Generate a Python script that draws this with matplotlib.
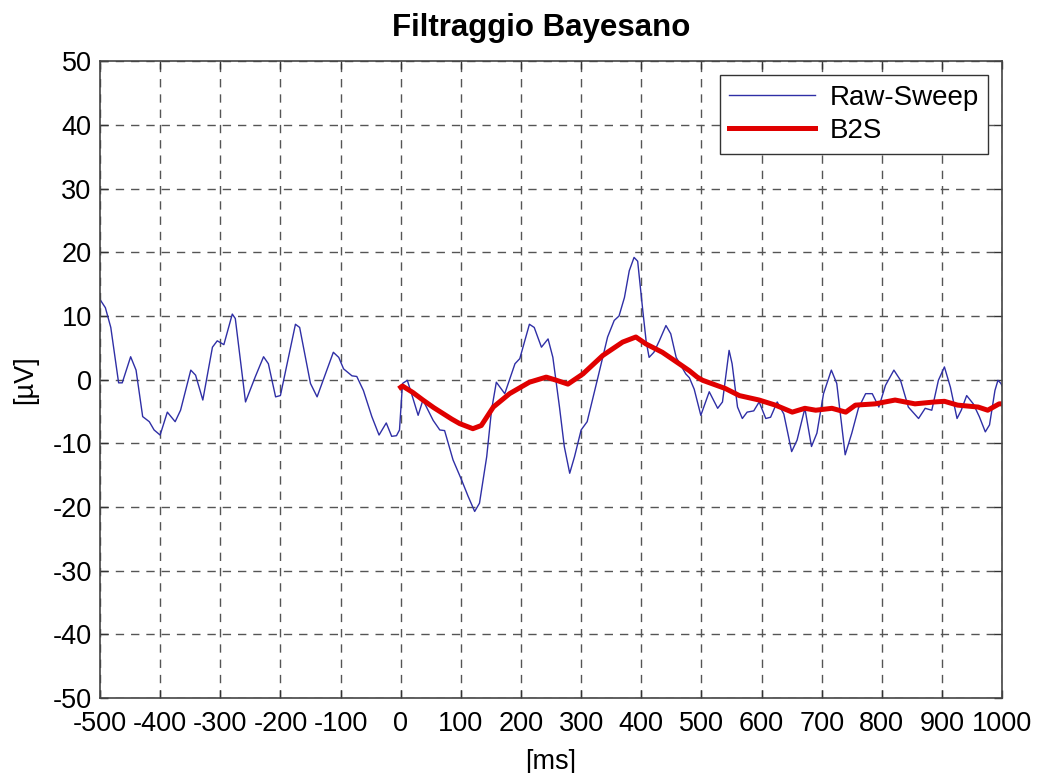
import numpy as np
import matplotlib
matplotlib.use("Agg")
import matplotlib.pyplot as plt

# Single sweep (raw) and Bayesian-filtered estimate, time in ms, amplitude in uV
raw_t = [-500, -491, -482, -469, -463, -449, -440, -429, -418, -410, -400, -388, -375, -366,
         -349, -341, -329, -313, -305, -294, -280, -275, -258, -242, -228, -220, -208, -200,
         -175, -168, -150, -139, -112, -103, -95, -81, -73, -62, -48, -36, -24, -15, -7, -2,
         3, 11, 18, 29, 37, 54, 65, 73, 87, 101, 112, 123, 131, 143, 151, 159, 173, 190, 198,
         214, 222, 234, 245, 253, 264, 272, 281, 289, 300, 310, 328, 344, 355, 363, 372, 380,
         388, 394, 402, 408, 413, 421, 430, 441, 449, 458, 474, 480, 488, 499, 513, 527, 535,
         546, 551, 560, 568, 576, 587, 596, 607, 615, 626, 637, 650, 659, 672, 683, 692, 703,
         716, 725, 739, 750, 761, 773, 784, 795, 806, 820, 831, 844, 861, 872, 883, 894, 904,
         914, 925, 932, 941, 952, 962, 972, 979, 988, 993, 998, 1000]
raw_v = [12.6, 11.3, 8.2, -0.5, -0.5, 3.6, 1.5, -5.8, -6.6, -7.9, -8.7, -5.1, -6.6, -4.8,
         1.5, 0.7, -3.2, 5.1, 6.1, 5.5, 10.3, 9.6, -3.5, 0.4, 3.6, 2.5, -2.7, -2.5,
         8.7, 8.2, -0.6, -2.7, 4.3, 3.5, 1.7, 0.6, 0.5, -1.7, -5.8, -8.7, -6.8, -8.9, -8.8, -7.9,
         -0.6, -0.1, -2.2, -5.6, -3.2, -6.4, -7.9, -8.0, -12.6, -15.7, -18.3, -20.7, -19.4, -12.1,
         -4.8, -0.4, -2.2, 2.5, 3.3, 8.7, 8.2, 5.1, 6.4, 3.5, -4.3, -10.5, -14.7, -12.1, -7.9,
         -6.6, 0.4, 6.7, 9.3, 10.0, 12.9, 17.1, 19.2, 18.6, 11.3, 6.1, 3.5, 4.3, 6.1, 8.5, 7.2,
         3.5, 0.9, 0.3, -1.5, -5.6, -1.9, -4.5, -3.5, 4.6, 2.5, -4.3, -6.1, -5.1, -4.9, -3.5,
         -6.1, -5.9, -3.5, -5.4, -11.3, -9.5, -4.5, -10.5, -8.4, -2.2, 1.5, -0.6, -11.8, -8.4,
         -4.5, -2.2, -2.2, -4.3, -0.9, 1.5, -0.1, -4.3, -6.1, -4.5, -4.8, -0.1, 2.0, -1.2, -6.1,
         -4.8, -2.5, -3.8, -5.8, -8.2, -7.1, -1.7, -0.1, -0.6, -1.0]

b2s_t = [0, 3, 20, 37, 55, 70, 85, 98, 120, 134, 154, 181, 214, 242, 259, 278, 303, 336, 369,
         391, 408, 435, 463, 480, 493, 502, 540, 563, 596, 623, 651, 672, 690, 717, 740, 756,
         789, 822, 855, 888, 904, 926, 960, 976, 995, 1000]
b2s_v = [-1.2, -1.0, -2.0, -3.2, -4.4, -5.3, -6.2, -6.9, -7.7, -7.2, -4.3, -2.2, -0.4, 0.4,
         -0.1, -0.7, 0.9, 3.8, 5.9, 6.7, 5.6, 4.3, 2.5, 1.4, 0.4, -0.1, -1.4, -2.5, -3.2, -4.0,
         -5.1, -4.5, -4.8, -4.5, -5.1, -4.0, -3.8, -3.2, -3.8, -3.5, -3.4, -4.0, -4.3, -4.8,
         -3.8, -3.8]

x_ticks = np.arange(-500, 1001, 100)
y_ticks = np.arange(-50, 51, 10)

plt.rcParams["font.family"] = ["Liberation Sans", "DejaVu Sans"]
plt.rcParams["axes.unicode_minus"] = False

fig = plt.figure(figsize=(10.37, 7.73), dpi=100)
ax = fig.add_axes([0.0964, 0.0970, 0.8700, 0.8237])

ax.plot(raw_t, raw_v, color="#2f2fa6", lw=1.0, label="Raw-Sweep")
ax.plot(b2s_t, b2s_v, color="#e00000", lw=3.6, label="B2S")

ax.set_xlim(-500, 1000)
ax.set_ylim(-50, 50)
ax.set_xticks(x_ticks)
ax.set_yticks(y_ticks)
ax.tick_params(direction="in", length=6, width=1, colors="#333333", labelcolor="black",
               labelsize=19.5, top=True, right=True)
ax.tick_params(axis="x", pad=9)
ax.tick_params(axis="y", pad=6)
ax.grid(True, color="#555555", lw=1.0, ls=(0, (6, 5)))
for s in ax.spines.values():
    s.set_color("#444444")
    s.set_linewidth(1.2)

ax.set_xlabel("[ms]", fontsize=19.5, labelpad=9)
ax.set_ylabel("[µV]", fontsize=19.5, labelpad=10)
ax.set_title("Filtraggio Bayesano", fontsize=22.5, fontweight="bold", x=0.4895, pad=18)

leg = ax.legend(loc="upper right", fontsize=20, handlelength=3.1, labelspacing=0.25,
                borderaxespad=0.5, fancybox=False, framealpha=1, borderpad=0.35,
                handletextpad=0.5)
leg.get_frame().set_edgecolor("#333333")
leg.get_frame().set_linewidth(1.0)

fig.savefig("out.png", dpi=100)
